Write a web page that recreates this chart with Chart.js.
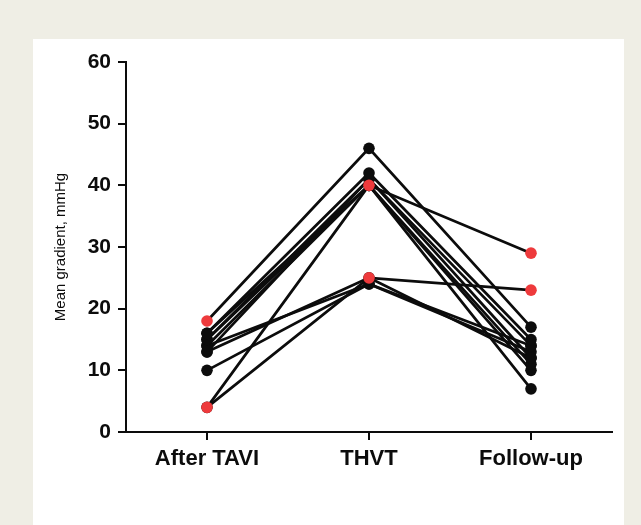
<!DOCTYPE html>
<html>
<head>
<meta charset="utf-8">
<script src="https://cdn.jsdelivr.net/npm/chart.js@4.4.0/dist/chart.umd.min.js"></script>
<style>
html, body { margin: 0; padding: 0; background: #efeee5; }
#panel { position: absolute; left: 33px; top: 39px; width: 591px; height: 486px; background: #fff; }
</style>
</head>
<body>
<div id="panel"><canvas id="chart" width="591" height="486"></canvas></div>
<script>
const categories = ['After TAVI', 'THVT', 'Follow-up'];
const yTicks = [0, 10, 20, 30, 40, 50, 60];

// one entry per patient
const afterTavi = [18, 16, 16, 15, 15, 14, 13, 4, 4, 10, 14, 13];
const thvt      = [46, 42, 40, 41, 40, 40, 41, 40, 25, 24, 24, 25];
const followUp  = [17, 15, 29, 12, 11, 10, 14, 7, 23, 13, 14, 12];

// [patient, visit] of the points shown in red
const redPoints = [[0, 0], [8, 0], [2, 1], [8, 1], [2, 2], [8, 2]];

const red = '#ee3a3c';
const black = '#0c0c0c';
const font = "'Liberation Sans', Arial, sans-serif";

const isRed = (p, v) => redPoints.some(r => r[0] === p && r[1] === v);

const datasets = afterTavi.map((v, i) => {
    const values = [afterTavi[i], thvt[i], followUp[i]];
    const colors = values.map((_, j) => isRed(i, j) ? red : black);
    return {
        data: values,
        borderColor: black,
        borderWidth: 2.7,
        pointBackgroundColor: colors,
        pointBorderWidth: 0,
        pointRadius: 5.8,
        order: colors.includes(red) ? 0 : 1,
        tension: 0,
        clip: false
    };
});

new Chart(document.getElementById('chart'), {
    type: 'line',
    data: { labels: categories, datasets: datasets },
    options: {
        responsive: false,
        animation: false,
        layout: { padding: { top: 23, right: 12, left: 0, bottom: 0 } },
        plugins: { legend: { display: false }, tooltip: { enabled: false } },
        scales: {
            x: {
                offset: true,
                afterFit: s => { s.height = 93; },
                grid: { offset: false, drawOnChartArea: false, tickLength: 8, color: black, lineWidth: 2 },
                border: { display: true, color: black, width: 2 },
                ticks: { color: black, padding: 6, font: { family: font, size: 22, weight: 'bold' } }
            },
            y: {
                min: 0,
                max: 60,
                afterFit: s => { s.width = 93; },
                afterBuildTicks: s => { s.ticks = yTicks.map(v => ({ value: v })); },
                grid: { drawOnChartArea: false, tickLength: 8, color: black, lineWidth: 2 },
                border: { display: true, color: black, width: 2 },
                ticks: { color: black, padding: 7, font: { family: font, size: 21, weight: 'bold' } },
                title: {
                    display: true,
                    text: 'Mean gradient, mmHg',
                    color: black,
                    padding: { top: 19, bottom: 0 },
                    font: { family: font, size: 15 }
                }
            }
        }
    }
});
</script>
</body>
</html>
